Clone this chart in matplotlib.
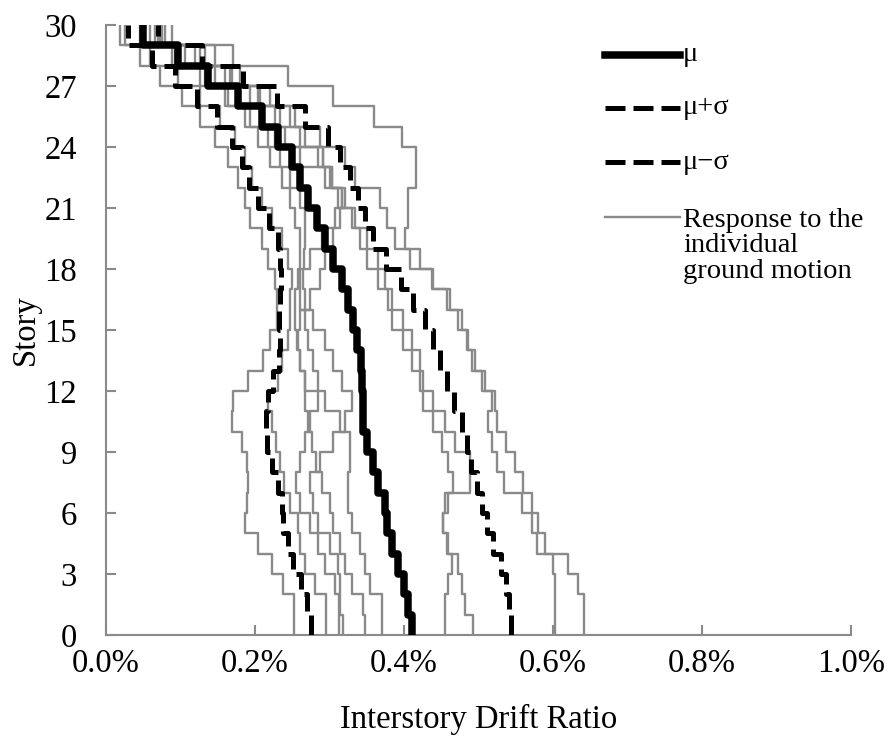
import numpy as np
import matplotlib
matplotlib.use("Agg")
import matplotlib.pyplot as plt
from matplotlib.lines import Line2D
from matplotlib.ticker import FuncFormatter

plt.rcParams["font.family"] = ["Liberation Serif", "DejaVu Serif"]

# interstory drift ratio (%) for stories 1..30
stories = np.arange(1, 31)

mean = [0.411, 0.405, 0.400, 0.392, 0.384, 0.377, 0.374, 0.365, 0.358, 0.350,
        0.345, 0.345, 0.344, 0.342, 0.337, 0.332, 0.325, 0.317, 0.305, 0.294,
        0.283, 0.271, 0.260, 0.250, 0.231, 0.209, 0.177, 0.137, 0.097, 0.050]
mean_plus = [0.544, 0.541, 0.537, 0.530, 0.520, 0.511, 0.505, 0.498, 0.490, 0.484,
             0.478, 0.467, 0.458, 0.448, 0.439, 0.428, 0.412, 0.396, 0.376, 0.358,
             0.348, 0.338, 0.328, 0.314, 0.298, 0.267, 0.230, 0.184, 0.129, 0.070]
mean_minus = [0.275, 0.270, 0.262, 0.251, 0.244, 0.238, 0.236, 0.231, 0.223, 0.216,
              0.215, 0.218, 0.224, 0.232, 0.233, 0.232, 0.233, 0.235, 0.233, 0.231,
              0.219, 0.204, 0.192, 0.183, 0.169, 0.149, 0.122, 0.093, 0.062, 0.030]

gm1 = [0.252, 0.252, 0.238, 0.223, 0.204, 0.187, 0.189, 0.191, 0.189, 0.183,
       0.169, 0.170, 0.191, 0.211, 0.220, 0.230, 0.230, 0.227, 0.218, 0.209,
       0.193, 0.187, 0.177, 0.164, 0.146, 0.126, 0.102, 0.072, 0.046, 0.019]
gm2 = [0.295, 0.295, 0.281, 0.267, 0.260, 0.258, 0.247, 0.239, 0.234, 0.228,
       0.223, 0.217, 0.231, 0.236, 0.244, 0.247, 0.247, 0.250, 0.244, 0.236,
       0.223, 0.209, 0.196, 0.187, 0.173, 0.153, 0.126, 0.097, 0.059, 0.025]
gm3 = [0.313, 0.313, 0.307, 0.294, 0.285, 0.274, 0.260, 0.255, 0.260, 0.267,
       0.274, 0.285, 0.267, 0.260, 0.256, 0.254, 0.254, 0.258, 0.260, 0.260,
       0.254, 0.247, 0.236, 0.220, 0.204, 0.187, 0.160, 0.126, 0.089, 0.046]
gm4 = [0.318, 0.314, 0.314, 0.311, 0.301, 0.285, 0.278, 0.274, 0.287, 0.305,
       0.321, 0.330, 0.317, 0.305, 0.294, 0.278, 0.267, 0.264, 0.266, 0.267,
       0.267, 0.260, 0.247, 0.234, 0.218, 0.193, 0.164, 0.133, 0.093, 0.059]
gm5 = [0.348, 0.345, 0.330, 0.321, 0.314, 0.305, 0.301, 0.290, 0.282, 0.276,
       0.271, 0.267, 0.267, 0.260, 0.258, 0.260, 0.274, 0.287, 0.294, 0.305,
       0.314, 0.321, 0.294, 0.260, 0.227, 0.209, 0.180, 0.146, 0.106, 0.066]
gm6 = [0.371, 0.371, 0.354, 0.348, 0.341, 0.330, 0.325, 0.325, 0.328, 0.328,
       0.314, 0.294, 0.285, 0.278, 0.271, 0.267, 0.260, 0.260, 0.274, 0.290,
       0.307, 0.317, 0.303, 0.291, 0.240, 0.227, 0.193, 0.160, 0.119, 0.072]
gm7 = [0.642, 0.642, 0.634, 0.620, 0.589, 0.580, 0.572, 0.560, 0.549, 0.537,
       0.525, 0.522, 0.509, 0.495, 0.486, 0.478, 0.462, 0.439, 0.421, 0.401,
       0.405, 0.405, 0.416, 0.416, 0.397, 0.360, 0.305, 0.244, 0.170, 0.089]
gm8 = [0.603, 0.603, 0.603, 0.600, 0.579, 0.572, 0.558, 0.534, 0.525, 0.518,
       0.513, 0.518, 0.505, 0.491, 0.484, 0.472, 0.458, 0.438, 0.408, 0.388,
       0.377, 0.368, 0.334, 0.321, 0.287, 0.254, 0.220, 0.180, 0.146, 0.079]
gm9 = [0.493, 0.482, 0.478, 0.472, 0.458, 0.452, 0.459, 0.489, 0.489, 0.469,
       0.455, 0.439, 0.426, 0.421, 0.411, 0.399, 0.384, 0.375, 0.365, 0.350,
       0.334, 0.317, 0.303, 0.291, 0.267, 0.247, 0.204, 0.169, 0.133, 0.075]
gm10 = [0.455, 0.455, 0.459, 0.464, 0.459, 0.452, 0.455, 0.466, 0.459, 0.451,
        0.439, 0.426, 0.421, 0.411, 0.399, 0.384, 0.378, 0.365, 0.350, 0.341,
        0.330, 0.311, 0.301, 0.285, 0.260, 0.233, 0.207, 0.166, 0.126, 0.070]

ground_motions = [gm1, gm2, gm3, gm4, gm5, gm6, gm7, gm8, gm9, gm10]

xticks = [0.0, 0.2, 0.4, 0.6, 0.8, 1.0]
yticks = list(range(0, 31, 3))


def profile(vals):
    # each story drawn as a vertical segment from floor s-1 to floor s
    x = np.repeat(vals, 2)
    y = np.repeat(np.arange(len(vals) + 1), 2)[1:-1]
    return x, y


fig = plt.figure(figsize=(8.91, 7.38), dpi=100)
ax = fig.add_axes([0.119, 0.1396, 0.836, 0.8265])

gray = "#8a8a8a"
gm_style = dict(color=gray, lw=1.7)
mean_style = dict(color="black", lw=5.4)
sd_style = dict(color="black", lw=3.6, dashes=(4, 1.6))

for gm in ground_motions:
    x, y = profile(gm)
    ax.plot(x, y, zorder=2, **gm_style)

x, y = profile(mean)
ax.plot(x, y, zorder=4, **mean_style)
x, y = profile(mean_plus)
ax.plot(x, y, zorder=3, **sd_style)
x, y = profile(mean_minus)
ax.plot(x, y, zorder=3, **sd_style)

ax.set_xlim(0, 1.0)
ax.set_ylim(0, 30)
ax.set_xticks(xticks)
ax.set_yticks(yticks)
ax.xaxis.set_major_formatter(FuncFormatter(lambda v, p: f"{v:.1f}%"))

for side in ["top", "right"]:
    ax.spines[side].set_visible(False)
for side in ["left", "bottom"]:
    ax.spines[side].set_color(gray)
    ax.spines[side].set_linewidth(1.5)
ax.tick_params(direction="in", length=7, width=1.5, color=gray, labelsize=23.5)
ax.tick_params(axis="x", pad=10)
ax.tick_params(axis="y", pad=21)

ax.set_xlabel("Interstory Drift Ratio", fontsize=23.5, labelpad=18)
ax.set_ylabel("Story", fontsize=23.5, labelpad=2)

# legend drawn by hand so the gray handle sits on the first text line
leg_items = [("μ", mean_style, 0.951), ("μ+σ", sd_style, 0.864), ("μ−σ", sd_style, 0.775)]
for text, style, fy in leg_items:
    ax.add_line(Line2D([0.670, 0.770], [fy, fy], transform=ax.transAxes,
                       clip_on=False, **style))
    ax.text(0.7745, fy, text, transform=ax.transAxes, fontsize=20.5, va="center")
ax.add_line(Line2D([0.670, 0.770], [0.685, 0.685], transform=ax.transAxes,
                   clip_on=False, **gm_style))
ax.text(0.7745, 0.638, "Response to the\nindividual\nground motion",
        transform=ax.transAxes, fontsize=20.5, va="center", linespacing=1.02)

fig.savefig("out.png", dpi=100)
